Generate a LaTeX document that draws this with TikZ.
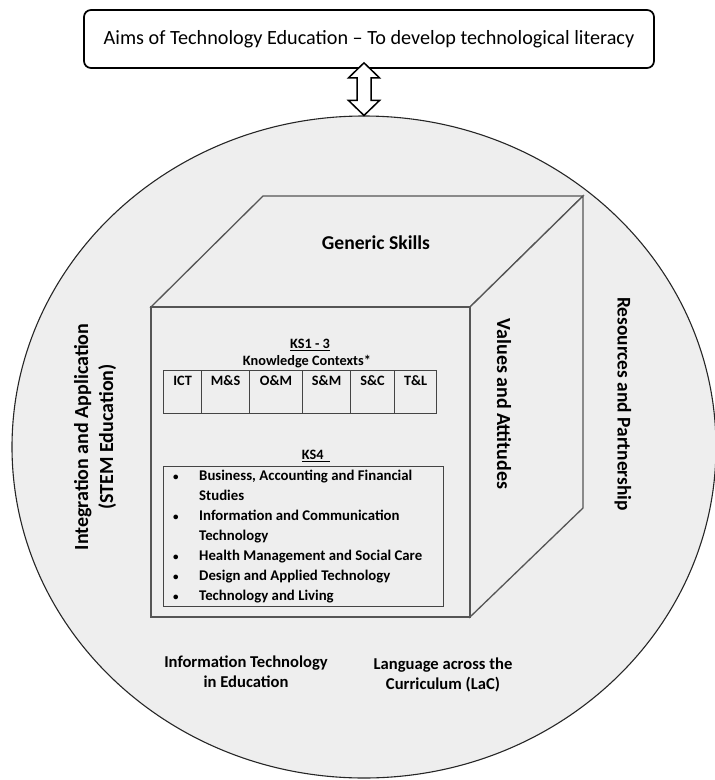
\documentclass[tikz,border=0pt]{standalone}
\usepackage{fontspec}
\setmainfont{Carlito}
\usetikzlibrary{shapes.geometric,calc}
\definecolor{bgfill}{HTML}{EEEEEE}
\definecolor{cubeline}{HTML}{555555}
\definecolor{tabline}{HTML}{444444}
\newcommand{\smallbul}{{\fontsize{11}{11}\selectfont\textbullet}}
\tikzset{
  aimsbox/.style={draw=black, line width=1.7pt, rounded corners=7pt, minimum width=570pt, minimum height=58pt, inner sep=0pt, font=\fontsize{20.2}{24}\selectfont},
  bigcircle/.style={ellipse, draw=black!85, line width=1.1pt, fill=bgfill, inner sep=0pt},
  cubeedge/.style={draw=cubeline, line width=1.3pt, line join=miter},
  bigtxt/.style={font=\fontsize{20}{25}\selectfont\bfseries, inner sep=0pt},
  midtxt/.style={font=\fontsize{16.6}{20}\selectfont\bfseries, inner sep=0pt, align=center},
  smalltxt/.style={font=\fontsize{14.3}{17}\selectfont\bfseries, inner sep=0pt, align=center},
  cellbox/.style={draw=tabline, line width=1.2pt, anchor=north west, inner xsep=0pt, inner ysep=3pt, text height=12pt, text depth=25pt, font=\fontsize{14.3}{16}\selectfont\bfseries},
  listbox/.style={draw=tabline, line width=1.2pt},
  dblarrow/.style={draw=black, line width=1.5pt, fill=white, line join=miter},
}
\begin{document}
\begin{tikzpicture}[x=1pt,y=-1pt]
\useasboundingbox (0,0) rectangle (715,780);

% outer circle
\node[bigcircle, minimum width=704pt, minimum height=662pt] (circ) at (364,447) {};

% top aims box
\node[aimsbox] (aims) at (369,39) {Aims of Technology Education -- To develop technological literacy};

% double arrow between aims box and circle
\coordinate (atop) at ($(circ.north |- aims.south)+(0,-6)$);
\coordinate (abot) at (circ.north);
\draw[dblarrow] (atop) -- ($(atop)+(15.5,15)$) -- ($(atop)+(7,15)$) -- ($(abot)+(7,-15)$) -- ($(abot)+(15.5,-15)$) -- (abot)
  -- ($(abot)+(-15.5,-15)$) -- ($(abot)+(-7,-15)$) -- ($(atop)+(-7,15)$) -- ($(atop)+(-15.5,15)$) -- cycle;

% cube
\coordinate (ftl) at (151,307);
\coordinate (ftr) at (470,307);
\coordinate (fbr) at (470,617);
\coordinate (fbl) at (151,617);
\coordinate (btl) at (263,196);
\coordinate (btr) at (583,196);
\coordinate (bbr) at (583,508);
\draw[cubeedge, fill=bgfill] (ftl) -- (btl) -- (btr) -- (ftr) -- cycle;
\draw[cubeedge, fill=bgfill] (ftr) -- (btr) -- (bbr) -- (fbr) -- cycle;
\draw[cubeedge, fill=bgfill] (ftl) rectangle (fbr);

% cube labels
\node[font=\fontsize{19.6}{24}\selectfont\bfseries, inner sep=0pt] (generic) at (376,243) {Generic Skills};
\node[bigtxt, rotate=-90] (values) at (504,404) {Values and Attitudes};
\node[font=\fontsize{19.4}{24}\selectfont\bfseries, inner sep=0pt, rotate=-90] (resources) at (623,404) {Resources and Partnership};
\node[bigtxt, rotate=90, align=center] (integ) at (95,437) {Integration and Application\\(STEM Education)};

% KS1-3
\node[smalltxt] (ks13) at (310,345) {\underline{KS1 - 3}};
\node[smalltxt] (kc) at (307,362) {Knowledge Contexts*};
\node[cellbox, minimum width=38pt] (c1) at (163,370) {ICT};
\node[cellbox, minimum width=48pt] (c2) at (201,370) {M\&S};
\node[cellbox, minimum width=53pt] (c3) at (249,370) {O\&M};
\node[cellbox, minimum width=48pt] (c4) at (302,370) {S\&M};
\node[cellbox, minimum width=44pt] (c5) at (350,370) {S\&C};
\node[cellbox, minimum width=42pt] (c6) at (394,370) {T\&L};

% KS4
\node[smalltxt] (ks4) at (316,456) {\underline{KS4\ \ }};
\node[listbox, anchor=north west, minimum width=280pt, minimum height=140pt] (ks4box) at (163,466) {};
\node[anchor=north west, inner sep=0pt, font=\fontsize{14.8}{20}\selectfont\bfseries] (ks4list) at (173,466) {%
\begin{tabular}{@{}p{26pt}@{}p{240pt}@{}}
\smallbul & Business, Accounting and Financial\\
 & Studies\\
\smallbul & Information and Communication\\
 & Technology\\
\smallbul & Health Management and Social Care\\
\smallbul & Design and Applied Technology\\
\smallbul & Technology and Living
\end{tabular}};

% bottom labels
\node[midtxt] (itedu) at (246,672) {Information Technology\\in Education};
\node[midtxt] (lac) at (443,675) {Language across the\\Curriculum (LaC)};
\end{tikzpicture}
\end{document}
